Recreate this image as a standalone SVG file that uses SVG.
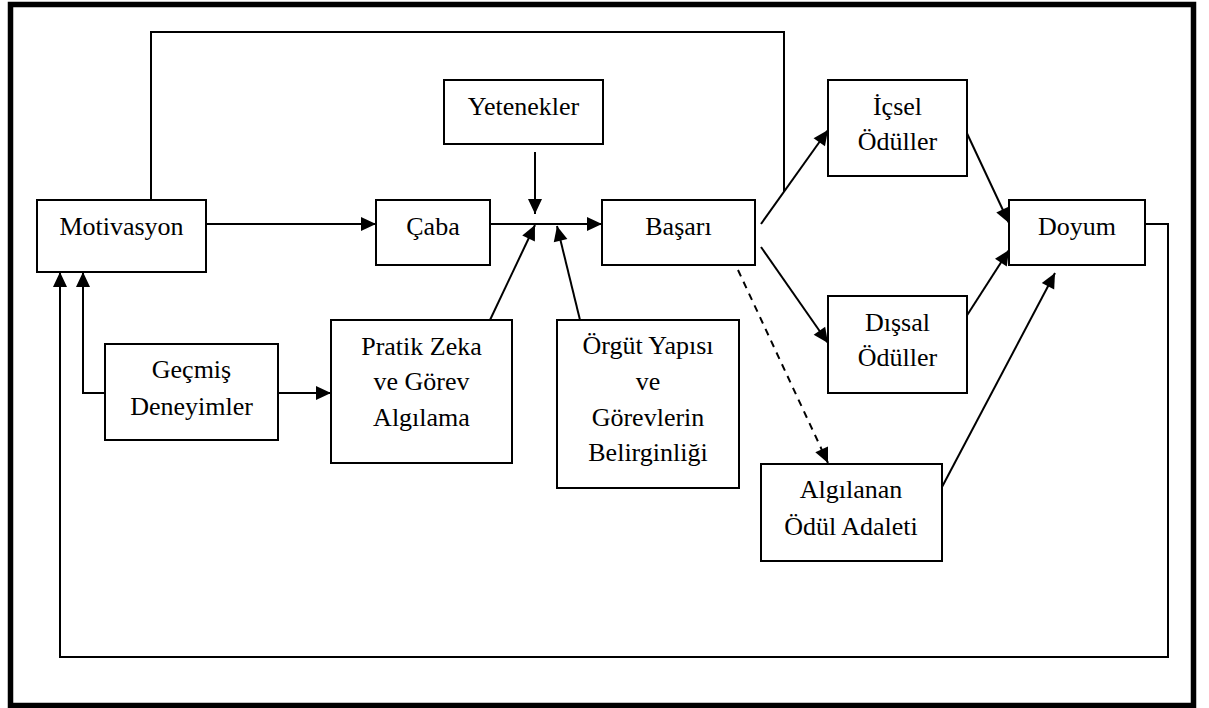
<svg xmlns="http://www.w3.org/2000/svg" width="1209" height="708" viewBox="0 0 1209 708">
<style>
.box{fill:#fff;stroke:#000;stroke-width:2}
.t{font-family:"Liberation Serif","Times New Roman",serif;font-size:26px;fill:#000;text-anchor:middle}
.c{fill:none;stroke:#000;stroke-width:2}
.a{marker-end:url(#ah)}
.d{stroke-dasharray:7,6}
</style>
<defs>
<marker id="ah" markerUnits="userSpaceOnUse" markerWidth="16" markerHeight="14" refX="15" refY="7" orient="auto" overflow="visible">
<path d="M0,0 L15,7 L0,14 z" fill="#000"/>
</marker>
</defs>
<rect x="10.5" y="4.5" width="1183" height="701" fill="#fff" stroke="#000" stroke-width="5.5"/>
<g id="connectors">
<polyline class="c" points="151,200 151,32 784,32 784,192"/>
<line class="c a" x1="206" y1="224" x2="376" y2="224"/>
<line class="c a" x1="490" y1="224" x2="602" y2="224"/>
<line class="c a" x1="535" y1="152" x2="535" y2="214"/>
<line class="c a" x1="490" y1="320" x2="535" y2="225"/>
<line class="c a" x1="580" y1="320" x2="557" y2="226"/>
<line class="c a" x1="278" y1="393" x2="331" y2="393"/>
<polyline class="c a" points="105,393 83,393 83,272"/>
<polyline class="c a" points="1145,224 1168,224 1168,657 60,657 60,272"/>
<line class="c a" x1="761" y1="224" x2="828" y2="130"/>
<line class="c a" x1="761" y1="247" x2="828" y2="343"/>
<line class="c a d" x1="738" y1="270" x2="828" y2="463"/>
<line class="c a" x1="964" y1="127" x2="1009" y2="223"/>
<line class="c a" x1="964" y1="320" x2="1009" y2="250"/>
<line class="c a" x1="942" y1="487" x2="1055" y2="273"/>
</g>
<g id="motivasyon"><rect class="box" x="37" y="200" width="169" height="72"/><text class="t" x="121.5" y="235">Motivasyon</text></g>
<g id="caba"><rect class="box" x="376" y="200" width="114" height="65"/><text class="t" x="433" y="235">Çaba</text></g>
<g id="basari"><rect class="box" x="602" y="200" width="153" height="65"/><text class="t" x="678.5" y="235">Başarı</text></g>
<g id="yetenekler"><rect class="box" x="444" y="80" width="159" height="64"/><text class="t" x="523.5" y="115">Yetenekler</text></g>
<g id="icsel"><rect class="box" x="828" y="80" width="139" height="96"/><text class="t" x="897.5" y="115">İçsel</text><text class="t" x="897.5" y="150">Ödüller</text></g>
<g id="doyum"><rect class="box" x="1009" y="200" width="136" height="65"/><text class="t" x="1077" y="235">Doyum</text></g>
<g id="dissal"><rect class="box" x="828" y="296" width="139" height="97"/><text class="t" x="897.5" y="331">Dışsal</text><text class="t" x="897.5" y="366">Ödüller</text></g>
<g id="gecmis"><rect class="box" x="105" y="344" width="173" height="96"/><text class="t" x="191.5" y="378">Geçmiş</text><text class="t" x="191.5" y="415">Deneyimler</text></g>
<g id="pratik"><rect class="box" x="331" y="320" width="181" height="143"/><text class="t" x="421.5" y="355">Pratik Zeka</text><text class="t" x="421.5" y="390">ve Görev</text><text class="t" x="421.5" y="426">Algılama</text></g>
<g id="orgut"><rect class="box" x="557" y="320" width="182" height="168"/><text class="t" x="648" y="354">Örgüt Yapısı</text><text class="t" x="648" y="390">ve</text><text class="t" x="648" y="426">Görevlerin</text><text class="t" x="648" y="461">Belirginliği</text></g>
<g id="algilanan"><rect class="box" x="761" y="464" width="181" height="97"/><text class="t" x="851" y="498">Algılanan</text><text class="t" x="851" y="535">Ödül Adaleti</text></g>
</svg>
